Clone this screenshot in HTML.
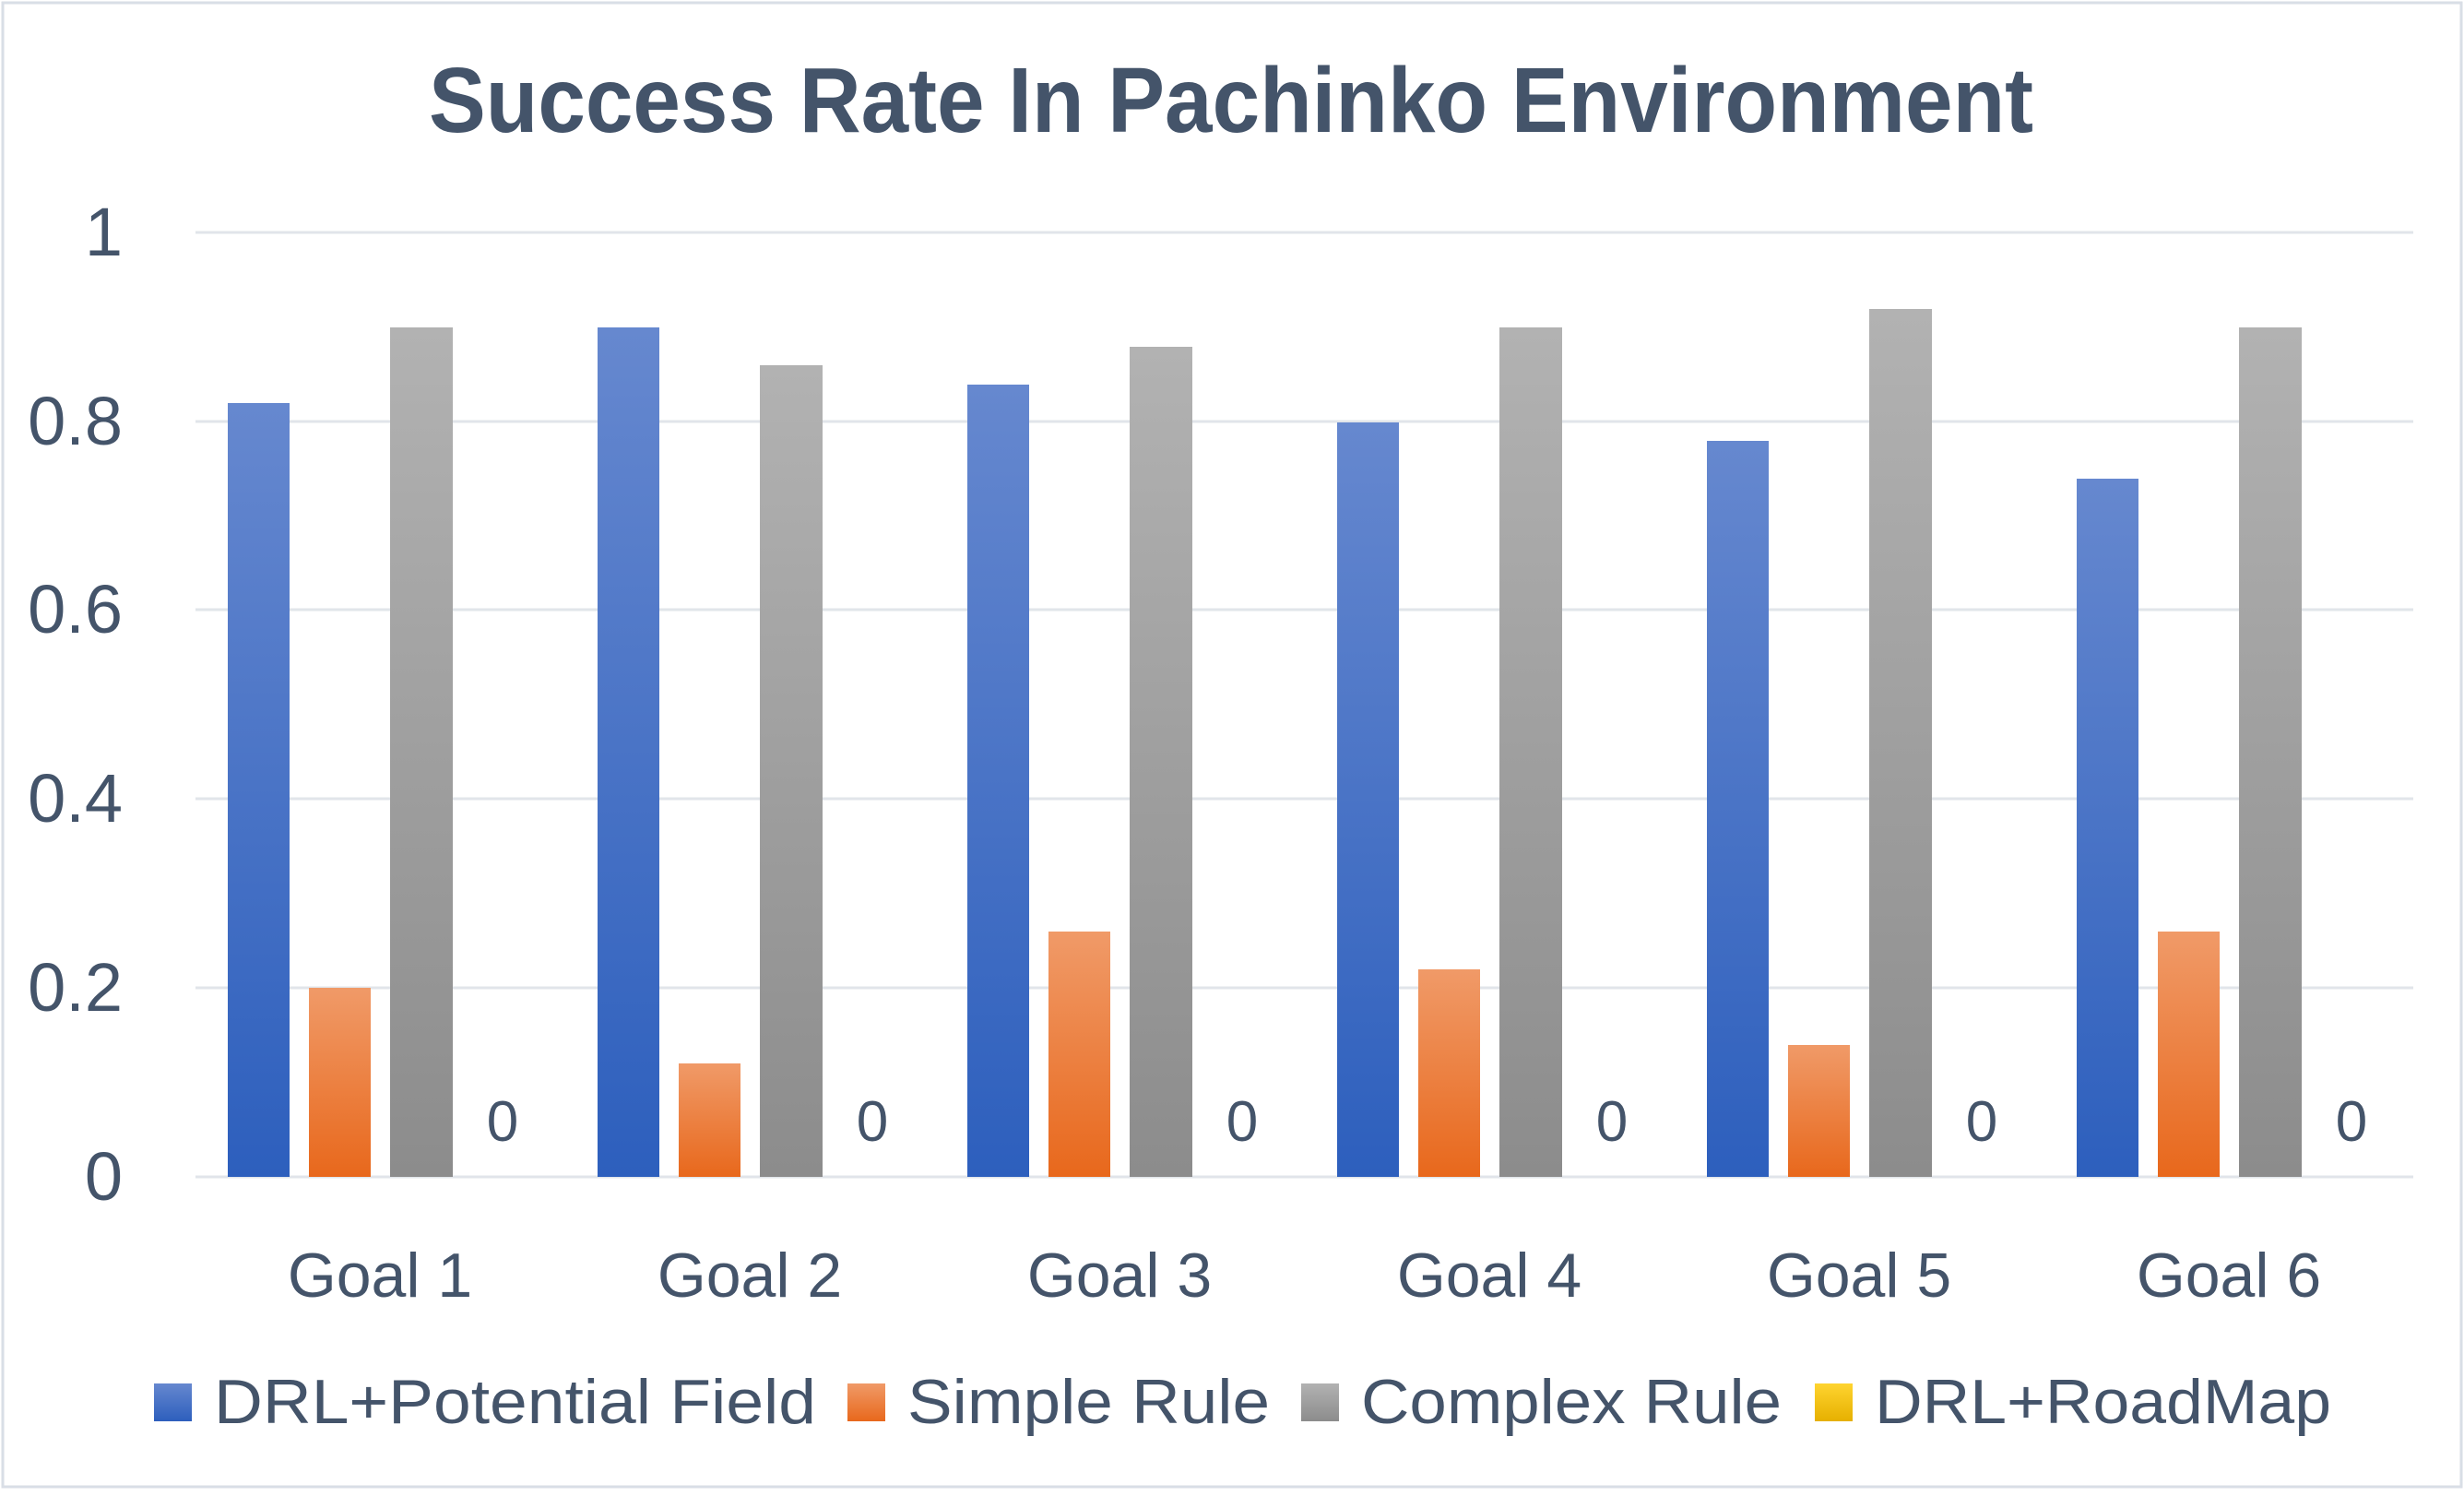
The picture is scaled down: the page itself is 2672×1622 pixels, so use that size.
<!DOCTYPE html>
<html><head><meta charset="utf-8"><style>html,body{margin:0;padding:0;background:#fff}</style></head>
<body>
<svg width="2672" height="1617" viewBox="0 0 2672 1617" xmlns="http://www.w3.org/2000/svg" font-family="Liberation Sans, sans-serif">
<defs>
<linearGradient id="gb" x1="0" y1="0" x2="0" y2="1"><stop offset="0" stop-color="#6688cf"/><stop offset="1" stop-color="#2d5fbd"/></linearGradient>
<linearGradient id="go" x1="0" y1="0" x2="0" y2="1"><stop offset="0" stop-color="#f09a68"/><stop offset="1" stop-color="#e8681c"/></linearGradient>
<linearGradient id="gg" x1="0" y1="0" x2="0" y2="1"><stop offset="0" stop-color="#b2b2b2"/><stop offset="1" stop-color="#8c8c8c"/></linearGradient>
<linearGradient id="gy" x1="0" y1="0" x2="0" y2="1"><stop offset="0" stop-color="#ffd430"/><stop offset="1" stop-color="#e6b000"/></linearGradient>
</defs>
<rect x="3" y="3" width="2666" height="1609" fill="#fff" stroke="#d9dee6" stroke-width="3"/>
<text x="1335" y="143" text-anchor="middle" font-size="100" font-weight="bold" fill="#44546a" textLength="1740" lengthAdjust="spacingAndGlyphs">Success Rate In Pachinko Environment</text>
<g stroke="#e1e5ea" stroke-width="3">
<line x1="212" x2="2617" y1="252" y2="252"/>
<line x1="212" x2="2617" y1="457" y2="457"/>
<line x1="212" x2="2617" y1="661" y2="661"/>
<line x1="212" x2="2617" y1="866" y2="866"/>
<line x1="212" x2="2617" y1="1071" y2="1071"/>
<line x1="212" x2="2617" y1="1276" y2="1276"/>
</g>
<g font-size="74" fill="#44546a" text-anchor="end">
<text x="133" y="277">1</text>
<text x="133" y="482">0.8</text>
<text x="133" y="686">0.6</text>
<text x="133" y="891">0.4</text>
<text x="133" y="1096">0.2</text>
<text x="133" y="1301">0</text>
</g>
<g>
<rect x="247" y="437" width="67" height="839" fill="url(#gb)"/><rect x="335" y="1071" width="67" height="205" fill="url(#go)"/><rect x="423" y="355" width="68" height="921" fill="url(#gg)"/>
<rect x="648" y="355" width="67" height="921" fill="url(#gb)"/><rect x="736" y="1153" width="67" height="123" fill="url(#go)"/><rect x="824" y="396" width="68" height="880" fill="url(#gg)"/>
<rect x="1049" y="417" width="67" height="859" fill="url(#gb)"/><rect x="1137" y="1010" width="67" height="266" fill="url(#go)"/><rect x="1225" y="376" width="68" height="900" fill="url(#gg)"/>
<rect x="1450" y="458" width="67" height="818" fill="url(#gb)"/><rect x="1538" y="1051" width="67" height="225" fill="url(#go)"/><rect x="1626" y="355" width="68" height="921" fill="url(#gg)"/>
<rect x="1851" y="478" width="67" height="798" fill="url(#gb)"/><rect x="1939" y="1133" width="67" height="143" fill="url(#go)"/><rect x="2027" y="335" width="68" height="941" fill="url(#gg)"/>
<rect x="2252" y="519" width="67" height="757" fill="url(#gb)"/><rect x="2340" y="1010" width="67" height="266" fill="url(#go)"/><rect x="2428" y="355" width="68" height="921" fill="url(#gg)"/>
</g>
<g font-size="62" fill="#44546a" text-anchor="middle">
<text x="545" y="1237">0</text><text x="946" y="1237">0</text><text x="1347" y="1237">0</text><text x="1748" y="1237">0</text><text x="2149" y="1237">0</text><text x="2550" y="1237">0</text>
</g>
<g font-size="68" fill="#44546a" text-anchor="middle">
<text x="412" y="1406">Goal 1</text><text x="813" y="1406">Goal 2</text><text x="1214" y="1406">Goal 3</text><text x="1615" y="1406">Goal 4</text><text x="2016" y="1406">Goal 5</text><text x="2417" y="1406">Goal 6</text>
</g>
<g font-size="68" fill="#44546a">
<rect x="167" y="1500" width="41" height="41" fill="url(#gb)"/><text x="232" y="1543" textLength="653" lengthAdjust="spacingAndGlyphs">DRL+Potential Field</text>
<rect x="919" y="1500" width="41" height="41" fill="url(#go)"/><text x="984" y="1543" textLength="393" lengthAdjust="spacingAndGlyphs">Simple Rule</text>
<rect x="1411" y="1500" width="41" height="41" fill="url(#gg)"/><text x="1476" y="1543" textLength="456" lengthAdjust="spacingAndGlyphs">Complex Rule</text>
<rect x="1968" y="1500" width="41" height="41" fill="url(#gy)"/><text x="2033" y="1543" textLength="495" lengthAdjust="spacingAndGlyphs">DRL+RoadMap</text>
</g>
</svg>
</body></html>
